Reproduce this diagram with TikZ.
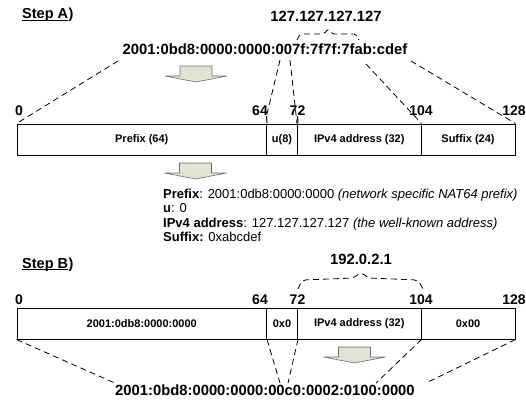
\documentclass[tikz,border=0pt]{standalone}
\usepackage{fontspec}
\setmainfont{Liberation Sans}
\begin{document}
\begin{tikzpicture}[x=1pt,y=-1pt,
  big/.style={font=\fontsize{14.8}{17}\selectfont\bfseries, inner sep=0pt},
  num/.style={font=\fontsize{14}{16}\selectfont\bfseries, inner sep=0pt, anchor=base},
  steplabel/.style={font=\fontsize{14.5}{17}\selectfont\bfseries, inner sep=0pt, anchor=base west},
  cell/.style={draw, line width=1pt, font=\fontsize{11}{13}\selectfont\bfseries,
    inner sep=0pt, minimum height=31pt},
  info/.style={font=\fontsize{13}{15}\selectfont, inner sep=0pt, anchor=base west},
  guide/.style={line width=0.8pt, dash pattern=on 6pt off 4pt},
  flowarrow/.pic={
    \filldraw[fill=arrowfill, draw=arrowedge, line width=0.6pt]
      (-16,0) -- (16,0) -- (16,10) -- (31,10) -- (0,16) -- (-31,10) -- (-16,10) -- cycle;
  }
]
\definecolor{arrowfill}{RGB}{226,227,210}
\definecolor{arrowedge}{RGB}{110,110,110}
\useasboundingbox (0,0) rectangle (526,413);

% ---------------- Step A ----------------
\node[steplabel] (stepA) at (22,18.5) {Step A};
\node[steplabel, anchor=base west] (stepAp) at (stepA.base east) {)};
\draw[line width=0.8pt] ([yshift=-1.5pt]stepA.base west) -- ([yshift=-1.5pt]stepA.base east);

\node[big, anchor=base] (v4A) at (326,21.5) {127.127.127.127};
\draw[guide, rounded corners=2pt]
  (297,40) -- (300,34) -- (324,34) -- (328,29) -- (332,34) -- (356,34) -- (359,40);

\node[big, anchor=base] (addrA) at (265,54) {2001:0bd8:0000:0000:007f:7f7f:7fab:cdef};
\pic at (196,66) {flowarrow};

% bit positions
\node[num] (nA0)   at (19,115)    {0};
\node[num] (nA64)  at (260,115)   {64};
\node[num] (nA72)  at (297.5,115) {72};
\node[num] (nA104) at (421,115)   {104};
\node[num] (nA128) at (514,115)   {128};

% address layout
\node[cell, minimum width=249.5pt] (cA1) at (141.75,139.5) {Prefix (64)};
\node[cell, minimum width=31pt]    (cA2) at (282,139.5)    {u(8)};
\node[cell, minimum width=123.5pt] (cA3) at (359.25,139.5) {IPv4 address (32)};
\node[cell, minimum width=94pt]    (cA4) at (468,139.5)    {Suffix (24)};

\coordinate (tA64) at (266.5,116);
\coordinate (tA72) at (297.5,116);
\draw[line width=1pt] (tA64) -- (cA1.north east);
\draw[line width=1pt] (tA72) -- (cA2.north east);

\coordinate (sA0)   at (118,61);
\coordinate (sA64)  at (280,60);
\coordinate (sA72)  at (290,60);
\coordinate (sA104) at (366,64);
\coordinate (sA128) at (411,61);
\draw[guide] (sA0) -- (cA1.north west);
\draw[guide] (sA64) -- (tA64);
\draw[guide] (sA72) -- ([yshift=-12pt]tA72);
\draw[guide] (sA104) -- (cA3.north east);
\draw[guide] (sA128) -- (cA4.north east);

\pic at (195.5,163) {flowarrow};

\node[info] (lp) at (163,198)   {\textbf{Prefix}: 2001:0db8:0000:0000 \textit{(network specific NAT64 prefix)}};
\node[info] (lu) at (163,212.5) {\textbf{u}: 0};
\node[info] (lv) at (163,227)   {\textbf{IPv4 address}: 127.127.127.127 \textit{(the well-known address)}};
\node[info] (ls) at (163,241.5) {\textbf{Suffix:} 0xabcdef};

% ---------------- Step B ----------------
\node[steplabel] (stepB) at (22,268) {Step B};
\node[steplabel, anchor=base west] (stepBp) at (stepB.base east) {)};
\draw[line width=0.8pt] ([yshift=-1.5pt]stepB.base west) -- ([yshift=-1.5pt]stepB.base east);

\node[big, anchor=base] (v4B) at (361,264.5) {192.0.2.1};
\draw[guide, rounded corners=4pt]
  (298,289) -- (302,280) -- (354,278) -- (361,272) -- (368,278) -- (418,280) -- (423,289);

\node[num] (nB0)   at (19,304)    {0};
\node[num] (nB64)  at (260,304)   {64};
\node[num] (nB72)  at (297.5,304) {72};
\node[num] (nB104) at (421,304)   {104};
\node[num] (nB128) at (514,304)   {128};

\node[cell, minimum width=249.5pt] (cB1) at (141.75,323.5) {2001:0db8:0000:0000};
\node[cell, minimum width=31pt]    (cB2) at (282,323.5)    {0x0};
\node[cell, minimum width=123.5pt] (cB3) at (359.25,323.5) {IPv4 address (32)};
\node[cell, minimum width=94pt]    (cB4) at (468,323.5)    {0x00};

\pic at (354.5,347) {flowarrow};

\node[big, anchor=base] (addrB) at (265,395) {2001:0bd8:0000:0000:00c0:0002:0100:0000};

\coordinate (eB0)   at (117,384);
\coordinate (eB64)  at (280,383);
\coordinate (eB72)  at (288,383);
\coordinate (eB104) at (376,383);
\coordinate (eB128) at (428,382);
\draw[guide] (cB1.south west) -- (eB0);
\draw[guide] (cB1.south east) -- (eB64);
\draw[guide] (cB2.south east) -- (eB72);
\draw[guide] (cB3.south east) -- (eB104);
\draw[guide] (cB4.south east) -- (eB128);
\end{tikzpicture}
\end{document}
